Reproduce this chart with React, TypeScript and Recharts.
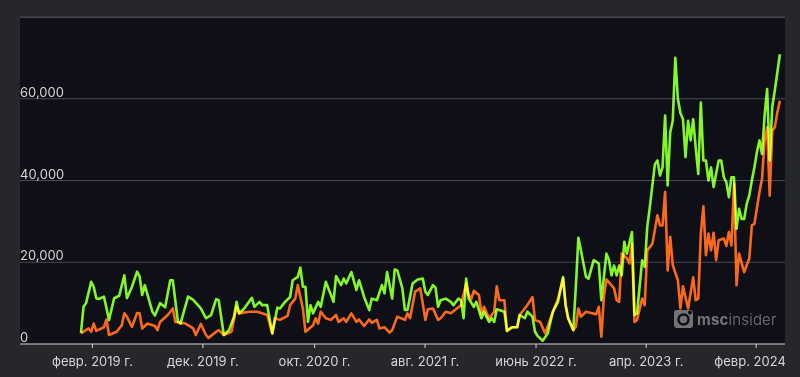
import React from 'react';
import { LineChart, Line, XAxis, YAxis, CartesianGrid } from 'recharts';

// weeks counted from the first sample, only the turning points
const greenWeeks = [0, 1, 2, 4, 5, 6, 7, 9, 11, 13, 15, 17, 18, 20, 22, 23, 24, 25, 28, 29, 31, 33, 35, 36, 38, 39, 42, 44, 47, 49, 51, 53, 54, 56, 58, 60, 61, 62, 64, 67, 68, 70, 71, 73, 75, 77, 78, 80, 82, 83, 85, 86, 87, 88, 89, 90, 91, 93, 94, 96, 98, 99, 100, 102, 103, 104, 106, 108, 109, 110, 111, 113, 114, 116, 118, 119, 120, 122, 123, 124, 126, 127, 128, 130, 132, 134, 135, 136, 138, 139, 140, 141, 143, 145, 146, 148, 149, 150, 151, 152, 154, 155, 157, 158, 160, 161, 162, 163, 166, 167, 169, 171, 172, 174, 175, 177, 178, 179, 181, 183, 185, 187, 189, 190, 191, 193, 194, 195, 196, 198, 199, 201, 203, 204, 206, 207, 208, 209, 210, 211, 212, 213, 214, 216, 217, 218, 220, 221, 222, 223, 225, 226, 227, 228, 229, 230, 231, 232, 233, 234, 235, 236, 237, 238, 239, 240, 241, 242, 243, 244, 245, 246, 247, 248, 250, 251, 252, 253, 254, 255, 256, 257, 258, 259, 260, 261, 262, 263, 264, 265, 266, 267, 268, 269, 270, 271, 272, 274];
const greenValues = [2700, 9100, 10000, 15200, 14000, 11200, 11000, 11600, 5900, 11200, 11800, 16800, 11200, 14000, 17700, 16500, 12000, 14400, 7900, 7000, 10000, 9000, 15600, 15600, 5500, 5000, 11600, 10800, 8700, 6300, 7070, 10980, 10700, 2200, 3400, 6700, 10300, 7500, 8700, 11300, 9100, 10300, 9500, 9500, 2600, 8900, 8700, 10300, 11500, 15600, 16400, 18700, 14000, 14000, 5400, 9500, 7500, 10300, 9100, 15200, 12000, 10300, 16600, 14400, 16000, 14800, 17600, 13200, 15600, 13600, 11500, 8300, 11100, 10700, 14400, 12400, 17600, 11100, 18200, 18000, 13600, 8300, 8300, 14800, 15800, 16000, 12800, 12000, 14400, 13800, 9100, 10700, 11100, 10300, 9500, 11100, 10700, 6300, 16000, 11100, 9100, 10300, 6300, 7900, 5400, 6300, 5400, 8500, 7900, 3200, 4100, 4100, 7100, 6300, 7900, 6700, 3000, 2000, 800, 2600, 7900, 10300, 16400, 9500, 6300, 3400, 14000, 26000, 22900, 16400, 16000, 20500, 19700, 10700, 22100, 20500, 16800, 19200, 16800, 19200, 16800, 25000, 22100, 27400, 7100, 7500, 20500, 18900, 28600, 33500, 44000, 44900, 41200, 43200, 55900, 38800, 51800, 54600, 70000, 60000, 56500, 55000, 45700, 54600, 49800, 55000, 48000, 41600, 59100, 44900, 44900, 40000, 43200, 38400, 44900, 44900, 40800, 39600, 35900, 40800, 40800, 28200, 33100, 30600, 30600, 34300, 36300, 40000, 43200, 47000, 49800, 46500, 55900, 62400, 44900, 58000, 62000, 70900];

const orangeWeeks = [0, 3, 4, 5, 6, 9, 10, 11, 14, 16, 17, 18, 20, 22, 23, 24, 26, 29, 30, 31, 34, 36, 37, 41, 44, 45, 47, 49, 50, 53, 54, 56, 59, 61, 62, 66, 69, 71, 73, 75, 76, 78, 81, 82, 84, 85, 87, 88, 91, 92, 93, 94, 96, 98, 100, 101, 103, 104, 106, 108, 109, 111, 113, 114, 116, 117, 119, 121, 122, 124, 127, 128, 129, 131, 133, 134, 135, 136, 138, 140, 141, 143, 145, 147, 149, 151, 152, 153, 154, 156, 157, 158, 160, 162, 163, 164, 166, 167, 169, 171, 172, 175, 177, 178, 180, 182, 185, 187, 189, 190, 191, 193, 194, 195, 196, 198, 202, 203, 204, 205, 206, 209, 210, 211, 212, 214, 215, 216, 217, 218, 220, 221, 222, 224, 226, 227, 228, 229, 230, 231, 232, 234, 235, 236, 238, 240, 241, 242, 243, 244, 245, 246, 247, 248, 249, 250, 252, 253, 254, 255, 256, 257, 258, 260, 262, 263, 264, 266, 267, 268, 269, 270, 271, 272, 273, 274];
const orangeValues = [2600, 3800, 3000, 5000, 3200, 4100, 6000, 2200, 3000, 4600, 7500, 6700, 4200, 7600, 7500, 3800, 5000, 4400, 3400, 5400, 7100, 8700, 5400, 5000, 3800, 2200, 4900, 2200, 1500, 3000, 3400, 2200, 3000, 9100, 7500, 7900, 7900, 7500, 7100, 2600, 6300, 5900, 6900, 9500, 11100, 14400, 8700, 3000, 4600, 6300, 5000, 7900, 6300, 5900, 7100, 5400, 6300, 5400, 7500, 5400, 6000, 4400, 6000, 5200, 5900, 3800, 4100, 2800, 3400, 6700, 5900, 7500, 6300, 12800, 13600, 9900, 5900, 8500, 8700, 5900, 6300, 7900, 7500, 8500, 9500, 14800, 12000, 11000, 13000, 12000, 7500, 9100, 6300, 7900, 14100, 10700, 10700, 3200, 4100, 4100, 7100, 9500, 11500, 5900, 5400, 2600, 7900, 11000, 16000, 9500, 6300, 3400, 4200, 8700, 6700, 7900, 7300, 9100, 1800, 11500, 15800, 13600, 10700, 10300, 22100, 21000, 19700, 24500, 5400, 5900, 11100, 9500, 22900, 24500, 31500, 29000, 29000, 37200, 18000, 26200, 19300, 15600, 8700, 14100, 8700, 16300, 10700, 11100, 27000, 33700, 21700, 27000, 22900, 27200, 20500, 25400, 25800, 24000, 27400, 24100, 39200, 14400, 22100, 17600, 20900, 29000, 29400, 37200, 40400, 49800, 53000, 36300, 52200, 53000, 56700, 59500];

const xTicks = [4.5, 47.8, 91.6, 134.9, 178.4, 221.6, 264.7];
const xLabels = ['февр. 2019 г.', 'дек. 2019 г.', 'окт. 2020 г.', 'авг. 2021 г.', 'июнь 2022 г.', 'апр. 2023 г.', 'февр. 2024 г.'];
const yTicks = [0, 20000, 40000, 60000];

const greenData = greenWeeks.map((week, i) => ({ week, value: greenValues[i] }));
const orangeData = orangeWeeks.map((week, i) => ({ week, value: orangeValues[i] }));

const FONT = 'Inter, sans-serif';

const XTick = ({ x, y, index }: any) => (
  <text x={x} y={y + 16} textAnchor="middle" fontFamily={FONT} fontSize={13} fill="#d6d6d9" clipPath="url(#labelClip)">
    {xLabels[index]}
  </text>
);

const YTick = ({ y, payload }: any) => (
  <text x={20} y={y - 2} textAnchor="start" fontFamily={FONT} fontSize={13} fill="#d6d6d9">
    {payload.value.toLocaleString('en-US')}
  </text>
);

export default function App() {
  return (
    <div style={{ position: 'absolute', left: 0, top: 0, width: 800, height: 377, background: '#26272d', overflow: 'hidden' }}>
      <style>{`.blend { mix-blend-mode: screen; }`}</style>
      <div style={{ position: 'absolute', left: 20, top: 17, width: 765, height: 327, background: '#0e0f17', borderTop: '1px solid #3c3d44', boxSizing: 'border-box' }} />
      <div style={{ position: 'absolute', left: 0, top: 0 }}>
        <LineChart width={800} height={377} margin={{ top: 17, right: 15, bottom: 0, left: 19 }}>
          <defs>
            <clipPath id="labelClip">
              <rect x={0} y={340} width={785} height={37} />
            </clipPath>
          </defs>
          <CartesianGrid vertical={false} stroke="#4a4b52" strokeWidth={1.2} />
          <XAxis
            dataKey="week"
            type="number"
            domain={[-23.9, 276]}
            ticks={xTicks}
            interval={0}
            tick={<XTick />}
            height={33}
            tickSize={4}
            axisLine={{ stroke: '#b9b9bd', strokeWidth: 1.2 }}
            tickLine={{ stroke: '#d6d6d9' }}
            allowDataOverflow
          />
          <YAxis
            type="number"
            domain={[0, 80000]}
            ticks={yTicks}
            width={1}
            axisLine={false}
            tickLine={false}
            tick={<YTick />}
          />
          <Line data={orangeData} dataKey="value" name="orange" type="linear" stroke="#fa6a1c" strokeWidth={2.6} strokeLinejoin="round" dot={false} isAnimationActive={false} />
          <Line data={greenData} dataKey="value" name="green" className="blend" type="linear" stroke="#7cf714" strokeWidth={2.6} strokeLinejoin="round" dot={false} isAnimationActive={false} />
        </LineChart>
      </div>
      {/* watermark */}
      <div style={{ position: 'absolute', left: 674, top: 309, display: 'flex', alignItems: 'center', fontFamily: FONT, fontSize: 15, letterSpacing: 0.2, color: 'rgba(255,255,255,0.42)' }}>
        <svg width={20} height={20} style={{ marginRight: 3 }}>
          <rect x={0} y={1} width={19} height={18} rx={3} fill="rgba(255,255,255,0.42)" />
          <circle cx={9.5} cy={10.5} r={5} fill="none" stroke="#0e0f17" strokeWidth={2.5} />
          <circle cx={16} cy={3.5} r={2} fill="#0e0f17" />
        </svg>
        <span style={{ fontWeight: 700 }}>msc</span>
        <span style={{ fontWeight: 300 }}>insider</span>
      </div>
    </div>
  );
}
